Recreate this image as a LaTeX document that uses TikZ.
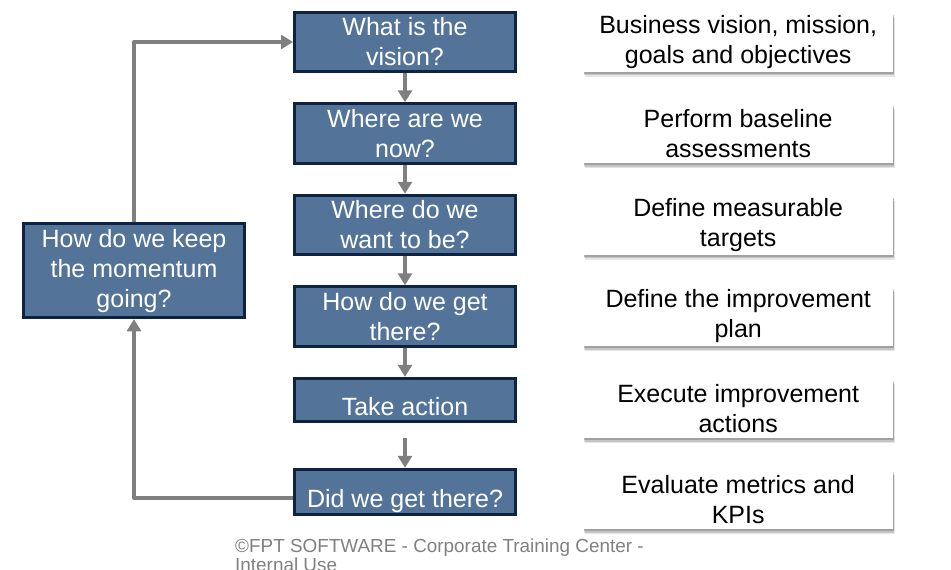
\documentclass[tikz,border=0pt]{standalone}
\usepackage{fontspec}
\setmainfont{Liberation Sans}
\usetikzlibrary{arrows.meta,positioning,calc,shadows}
\definecolor{stepblue}{RGB}{83,115,152}
\definecolor{stepnavy}{RGB}{14,35,66}
\definecolor{linegray}{RGB}{127,127,127}
\definecolor{footgray}{RGB}{128,128,128}
\tikzset{
  flow/.style={-{Triangle[length=12pt,width=14pt]}, line width=4.5pt, draw=linegray},
  loopflow/.style={flow, line join=round},
  stepbox/.style={shape=rectangle, draw=stepnavy, line width=3pt, fill=stepblue, text=white, align=center, minimum width=221pt, minimum height=59.5pt, inner sep=1pt, font=\fontsize{25}{30}\selectfont},
  lowtext/.style={text height=32pt, text depth=0pt},
  softshadow/.style={
    general shadow={fill=black, opacity=0.10, shadow xshift=1.5pt, shadow yshift=-5pt},
    general shadow={fill=black, opacity=0.14, shadow xshift=1pt, shadow yshift=-3.5pt},
    general shadow={fill=black, opacity=0.18, shadow xshift=0.5pt, shadow yshift=-2pt}},
  notebox/.style={shape=rectangle, fill=white, align=center, minimum width=310pt, minimum height=59pt, inner sep=1pt, font=\fontsize{25}{30}\selectfont, softshadow},
  footer/.style={align=left, inner sep=0pt, text=footgray, font=\fontsize{18.9}{17.5}\selectfont}
}
\begin{document}
\begin{tikzpicture}[x=1pt, y=-1pt, node distance=29pt]
  \useasboundingbox (0,0) rectangle (951,570);

  \node[stepbox] (vision) at (405,42) {What is the\\vision?};
  \node[stepbox, below=of vision] (now) {Where are we\\now?};
  \node[stepbox, below=of now] (want) {Where do we\\want to be?};
  \node[stepbox, below=of want] (plan) {How do we get\\there?};
  \node[stepbox, lowtext, minimum height=43pt, below=of plan] (act) {Take action};
  \node[stepbox, lowtext, minimum height=45pt, below=45pt of act] (did) {Did we get there?};

  \node[stepbox, minimum height=94pt, anchor=east] (keep) at ($(want.west)!0.5!(plan.west)+(-47,0)$) {How do we keep\\the momentum\\going?};

  \node[notebox, right=66pt of vision] (visionnote) {Business vision, mission,\\goals and objectives};
  \node[notebox, right=66pt of now] (nownote) {Perform baseline\\assessments};
  \node[notebox, right=66pt of want] (wantnote) {Define measurable\\targets};
  \node[notebox, right=66pt of plan] (plannote) {Define the improvement\\plan};
  \node[notebox, right=66pt of act, yshift=-9pt] (actnote) {Execute improvement\\actions};
  \node[notebox, right=66pt of did, yshift=-8pt] (didnote) {Evaluate metrics and\\KPIs};

  \draw[flow] (vision.south) -- (now.north);
  \draw[flow] (now.south) -- (want.north);
  \draw[flow] (want.south) -- (plan.north);
  \draw[flow] (plan.south) -- (act.north);
  \draw[flow, shorten <=15pt] (act.south) -- (did.north);

  % feedback loop back to the top
  \draw[loopflow] ([yshift=-6pt]did.west) -| (keep.south);
  \draw[loopflow] (keep.north) |- (vision.west);

  \node[footer, anchor=north west] (copyright) at (235,539) {©FPT SOFTWARE - Corporate Training Center -\\Internal Use};
\end{tikzpicture}
\end{document}
